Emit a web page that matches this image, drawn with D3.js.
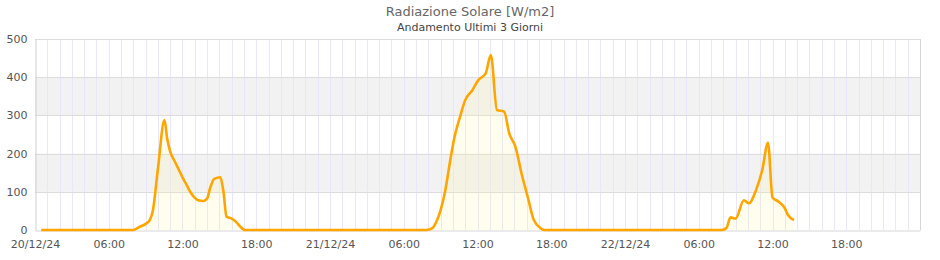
<!DOCTYPE html>
<html>
<head>
<meta charset="utf-8">
<title>Radiazione Solare</title>
<script src="https://d3js.org/d3.v7.min.js"></script>
<style>
  body { margin: 0; background: #fff; }
  text { font-family: "DejaVu Sans", sans-serif; }
</style>
</head>
<body>
<svg width="940" height="260"></svg>
<script>
// readings (time, W/m2)
const times = [
  "20/12/24 00:30", "20/12/24 08:00", "20/12/24 08:30", "20/12/24 09:00", "20/12/24 09:20",
  "20/12/24 09:35", "20/12/24 10:00", "20/12/24 10:32", "20/12/24 10:45", "20/12/24 11:00",
  "20/12/24 11:20", "20/12/24 11:40", "20/12/24 12:00", "20/12/24 12:20", "20/12/24 12:40",
  "20/12/24 13:00", "20/12/24 13:20", "20/12/24 13:40", "20/12/24 14:00", "20/12/24 14:15",
  "20/12/24 14:35", "20/12/24 15:05", "20/12/24 15:20", "20/12/24 15:35", "20/12/24 16:00",
  "20/12/24 16:20", "20/12/24 16:40", "20/12/24 17:05",
  "21/12/24 07:50", "21/12/24 08:20", "21/12/24 08:35", "21/12/24 09:00", "21/12/24 09:20",
  "21/12/24 09:50", "21/12/24 10:05", "21/12/24 10:35", "21/12/24 11:00", "21/12/24 11:35",
  "21/12/24 12:05", "21/12/24 12:40", "21/12/24 13:05", "21/12/24 13:35", "21/12/24 14:10",
  "21/12/24 14:35", "21/12/24 15:05", "21/12/24 15:35", "21/12/24 16:05", "21/12/24 16:35",
  "21/12/24 17:10", "21/12/24 17:25",
  "22/12/24 07:50", "22/12/24 08:15", "22/12/24 08:35", "22/12/24 09:00", "22/12/24 09:40",
  "22/12/24 10:05", "22/12/24 10:40", "22/12/24 11:10", "22/12/24 11:38", "22/12/24 12:00",
  "22/12/24 12:30", "22/12/24 13:00", "22/12/24 13:15", "22/12/24 13:45"
];
const radiation = [
  0, 0, 8, 16, 26,
  50, 160, 288, 240, 205,
  182, 160, 138, 118, 98,
  84, 77, 76, 82, 110,
  134, 138, 100, 35, 30,
  22, 10, 0,
  0, 5, 17, 52, 96,
  192, 236, 297, 340, 366,
  393, 410, 458, 314, 310,
  253, 218, 148, 87, 26,
  4, 0,
  0, 5, 33, 30, 78,
  70, 105, 157, 228, 85,
  74, 57, 40, 26
];
const yTicks = [0, 100, 200, 300, 400, 500];
const bands = [[100, 200], [300, 400]];
const xStart = "20/12/24 00:00";
const xEnd = "23/12/24 00:00";

const parse = d3.timeParse("%d/%m/%y %H:%M");
const data = times.map((t, i) => ({ t: parse(t), v: radiation[i] }));

const svg = d3.select("svg");
const plotLeft = 35, plotRight = 920, plotTop = 39, plotBottom = 230;

const x = d3.scaleTime().domain([parse(xStart), parse(xEnd)]).range([plotLeft, plotRight]);
const y = d3.scaleLinear().domain([0, 500]).range([plotBottom, plotTop]);

// title
svg.append("text")
  .attr("x", 470).attr("y", 16)
  .attr("text-anchor", "middle")
  .style("font-size", "13px").style("fill", "#666")
  .text("Radiazione Solare [W/m2]");
svg.append("text")
  .attr("x", 470).attr("y", 31)
  .attr("text-anchor", "middle")
  .style("font-size", "11px").style("fill", "#444")
  .text("Andamento Ultimi 3 Giorni");

// grey bands
svg.selectAll("rect.band")
  .data(bands)
  .enter().append("rect")
  .attr("class", "band")
  .attr("x", plotLeft).attr("width", plotRight - plotLeft)
  .attr("y", d => y(d[1]))
  .attr("height", d => y(d[0]) - y(d[1]))
  .attr("fill", "#f2f2f2");

// hourly vertical grid
svg.append("g")
  .selectAll("line")
  .data(x.ticks(d3.timeHour.every(1)).slice(1))
  .enter().append("line")
  .attr("x1", d => Math.round(x(d)) + 0.5).attr("x2", d => Math.round(x(d)) + 0.5)
  .attr("y1", plotTop).attr("y2", plotBottom)
  .attr("stroke", "#e8e6f8").attr("stroke-width", 1);

// horizontal grid
svg.append("g")
  .selectAll("line")
  .data(yTicks.slice(1))
  .enter().append("line")
  .attr("x1", plotLeft).attr("x2", plotRight)
  .attr("y1", d => Math.round(y(d)) + 0.5).attr("y2", d => Math.round(y(d)) + 0.5)
  .attr("stroke", "#dcdcdc");

// right border
svg.append("line")
  .attr("x1", plotRight + 0.5).attr("x2", plotRight + 0.5)
  .attr("y1", plotTop).attr("y2", plotBottom)
  .attr("stroke", "#d6d6d6");

// area + line
const area = d3.area()
  .x(d => x(d.t)).y0(y(0)).y1(d => y(d.v))
  .curve(d3.curveMonotoneX);
const line = d3.line()
  .x(d => x(d.t)).y(d => y(d.v))
  .curve(d3.curveMonotoneX);

svg.append("path")
  .datum(data)
  .attr("d", area)
  .attr("fill", "rgba(250, 245, 160, 0.18)");

// y axis
const yAxis = d3.axisLeft(y).tickValues(yTicks).tickSize(0).tickPadding(8);
const gy = svg.append("g")
  .attr("transform", `translate(${plotLeft + 0.5},0)`)
  .call(yAxis);
gy.select(".domain").attr("stroke", "#cfcfcf");
gy.selectAll("text").style("font-size", "11px").style("fill", "#555")
  .style("font-family", "DejaVu Sans, sans-serif");

// x axis
const xFmt = d => d.getHours() === 0 ? d3.timeFormat("%d/%m/%y")(d) : d3.timeFormat("%H:%M")(d);
const xAxis = d3.axisBottom(x)
  .tickValues(x.ticks(d3.timeHour.every(6)).slice(0, 12))
  .tickFormat(xFmt).tickSize(0).tickPadding(10);
const gx = svg.append("g")
  .attr("transform", `translate(0,${plotBottom + 0.5})`)
  .call(xAxis);
gx.select(".domain").attr("stroke", "#d6d6d6");
gx.selectAll("text").style("font-size", "11px").style("fill", "#555")
  .style("font-family", "DejaVu Sans, sans-serif");

svg.append("path")
  .datum(data)
  .attr("d", line)
  .attr("fill", "none")
  .attr("stroke", "#ffa500")
  .attr("stroke-width", 2.6)
  .attr("stroke-linejoin", "round");
</script>
</body>
</html>
